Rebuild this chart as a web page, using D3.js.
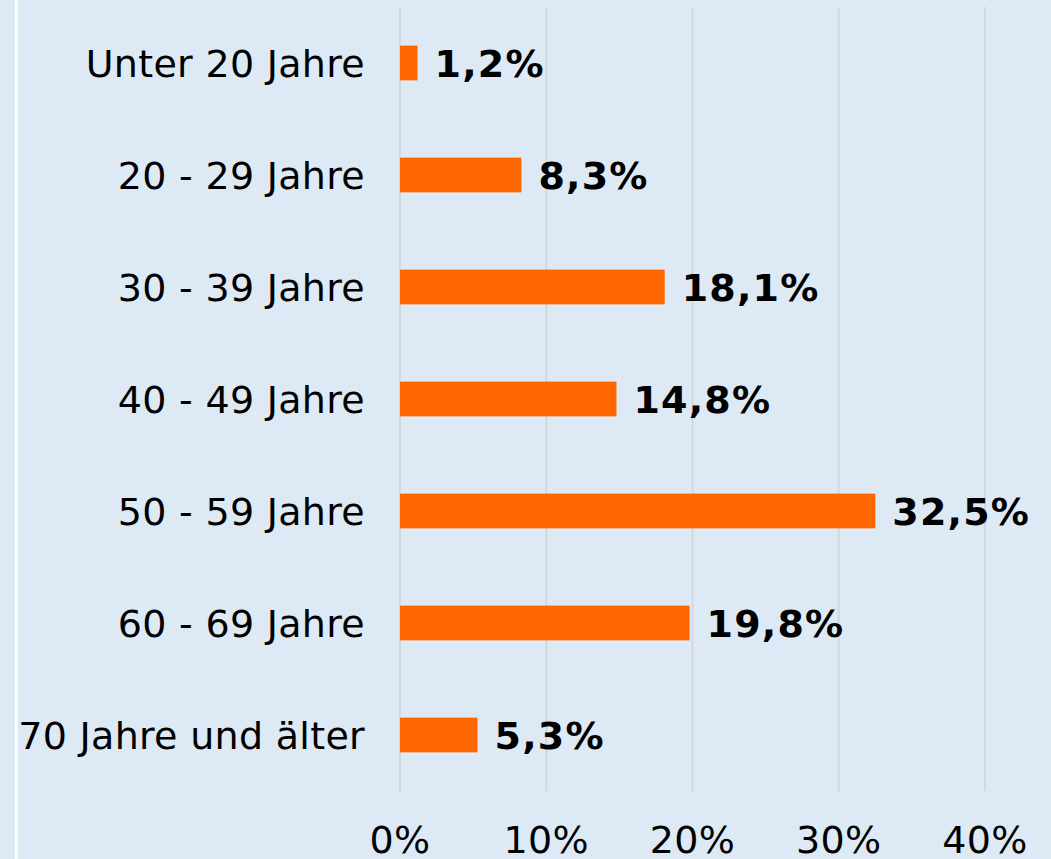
<!DOCTYPE html>
<html>
<head>
<meta charset="utf-8">
<script src="https://cdn.jsdelivr.net/npm/d3@7"></script>
<style>
  html, body { margin: 0; padding: 0; background: #dde9f5; }
  svg { display: block; font-family: "DejaVu Sans", Verdana, sans-serif; }
</style>
</head>
<body>
<div id="chart"></div>
<script>
// Altersgruppen und Anteile
var categories = ['Unter 20 Jahre', '20 - 29 Jahre', '30 - 39 Jahre', '40 - 49 Jahre',
                  '50 - 59 Jahre', '60 - 69 Jahre', '70 Jahre und älter'];
var values = [1.2, 8.3, 18.1, 14.8, 32.5, 19.8, 5.3];
var ticks = [0, 10, 20, 30, 40];

var width = 1051, height = 859;

var svg = d3.select('#chart').append('svg')
    .attr('width', width)
    .attr('height', height);

svg.append('rect')
    .attr('width', width)
    .attr('height', height)
    .style('fill', '#dde9f5');

// white border line on the left
svg.append('rect')
    .attr('x', 15)
    .attr('y', 0)
    .attr('width', 2.5)
    .attr('height', height)
    .style('fill', '#ffffff');

var x = d3.scaleLinear().domain([0, 40]).range([400, 985]);
var y = d3.scaleBand().domain(categories).range([7, 791]).paddingInner(0.69).paddingOuter(0.345);

// gridlines
svg.selectAll('.grid')
    .data(ticks)
    .enter().append('line')
    .attr('x1', function(d) { return x(d); })
    .attr('x2', function(d) { return x(d); })
    .attr('y1', 7)
    .attr('y2', 791)
    .style('stroke', '#d4d8dc')
    .style('stroke-width', 2);

// bars
svg.selectAll('.bar')
    .data(values)
    .enter().append('rect')
    .attr('x', x(0))
    .attr('y', function(d, i) { return y(categories[i]); })
    .attr('width', function(d) { return x(d) - x(0); })
    .attr('height', y.bandwidth())
    .style('fill', '#ff6600');

// value labels
var fmt = function(d) { return d.toFixed(1).replace('.', ',') + '%'; };
svg.selectAll('.val')
    .data(values)
    .enter().append('text')
    .attr('x', function(d) { return x(d) + 17; })
    .attr('y', function(d, i) { return y(categories[i]) + y.bandwidth() / 2; })
    .attr('dy', '0.36em')
    .style('font-size', '38px')
    .style('font-weight', 'bold')
    .style('letter-spacing', '1.2px')
    .style('fill', '#000')
    .text(fmt);

// category labels
svg.selectAll('.cat')
    .data(categories)
    .enter().append('text')
    .attr('x', 365)
    .attr('y', function(d) { return y(d) + y.bandwidth() / 2; })
    .attr('dy', '0.36em')
    .attr('text-anchor', 'end')
    .style('font-size', '38px')
    .style('letter-spacing', '0.3px')
    .style('fill', '#000')
    .text(function(d) { return d; });

// tick labels
svg.selectAll('.tick')
    .data(ticks)
    .enter().append('text')
    .attr('x', function(d) { return x(d); })
    .attr('y', 853)
    .attr('text-anchor', 'middle')
    .style('font-size', '38px')
    .style('letter-spacing', '0.3px')
    .style('fill', '#000')
    .text(function(d) { return d + '%'; });
</script>
</body>
</html>
